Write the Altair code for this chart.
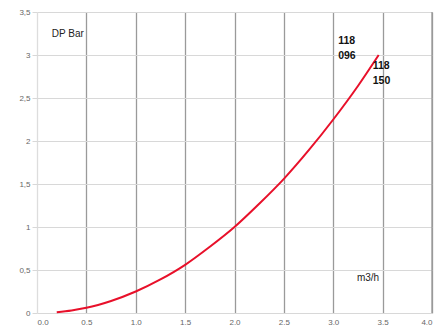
import altair as alt
import pandas as pd

flow = [0.2, 0.35, 0.5, 0.75, 1.0, 1.25, 1.5, 1.75, 2.0, 2.25, 2.5, 2.75, 3.0, 3.25, 3.46]
dp = [0.01, 0.03, 0.06, 0.14, 0.25, 0.39, 0.56, 0.77, 1.0, 1.27, 1.56, 1.89, 2.25, 2.64, 3.0]

x_ticks = [0, 0.5, 1, 1.5, 2, 2.5, 3, 3.5, 4]
y_ticks = [0, 0.5, 1, 1.5, 2, 2.5, 3, 3.5]

title_x = [0.15]
title_y = [3.25]
title_text = ["DP Bar"]

model_x = [3.05, 3.4]
model_y = [3.16, 2.87]
model_text = [["118", "096"], ["118", "150"]]

unit_x = [3.24]
unit_y = [0.41]
unit_text = ["m3/h"]

df = pd.DataFrame({"x": flow, "y": dp})
ttl = pd.DataFrame({"x": title_x, "y": title_y, "t": title_text})
mdl = pd.DataFrame({"x": model_x, "y": model_y, "t": model_text})
unit = pd.DataFrame({"x": unit_x, "y": unit_y, "t": unit_text})

xs = alt.Scale(domain=[0, 4], nice=False)
ys = alt.Scale(domain=[0, 3.5], nice=False)

xax = alt.Axis(values=x_ticks, title=None, labelExpr="replace(format(datum.value, '.1f'), '.', ',')",
               grid=True, gridColor={"condition": {"test": "datum.value == 0", "value": "#dddddd"}, "value": "#9a9a9a"},
               gridWidth=1.3, domain=False, ticks=False, labelFontSize=8, labelColor="#666666",
               labelPadding=5, labelFont="Liberation Sans")
yax = alt.Axis(values=y_ticks, title=None, labelExpr="replace(toString(datum.value), '.', ',')",
               grid=True, gridColor="#d8d8d8", gridWidth=1, domain=False, ticks=True, tickColor="#d8d8d8",
               tickSize=5, labelFontSize=8, labelColor="#666666", labelPadding=2, labelFont="Liberation Sans")

line = alt.Chart(df).mark_line(color="#e8102a", strokeWidth=2, interpolate="monotone").encode(
    x=alt.X("x:Q", scale=xs, axis=xax),
    y=alt.Y("y:Q", scale=ys, axis=yax),
)

t1 = alt.Chart(ttl).mark_text(align="left", baseline="middle", fontSize=10,
                              font="Liberation Sans", color="#222222").encode(
    x=alt.X("x:Q", scale=xs), y=alt.Y("y:Q", scale=ys), text="t")

t2 = alt.Chart(mdl).mark_text(align="left", baseline="middle", fontSize=10.5, lineHeight=15, fontWeight="bold",
                              font="Liberation Sans", color="#111111").encode(
    x=alt.X("x:Q", scale=xs), y=alt.Y("y:Q", scale=ys), text="t")

unit_lbl = alt.Chart(unit).mark_text(align="left", baseline="middle", fontSize=10,
                                     font="Liberation Sans", color="#222222").encode(
    x=alt.X("x:Q", scale=xs), y=alt.Y("y:Q", scale=ys), text="t")

right = alt.Chart(pd.DataFrame({"x": [4]})).mark_rule(color="#9a9a9a", strokeWidth=1.3).encode(
    x=alt.X("x:Q", scale=xs), y=alt.value(0), y2=alt.value(301))

chart = alt.layer(line, right, t1, t2, unit_lbl).properties(
    width=395, height=301,
    autosize=alt.AutoSizeParams(type="none"),
    padding={"left": 29, "top": 4, "right": 4, "bottom": 12},
).configure_view(stroke=None)

chart.save("out.html", embed_options={"renderer": "svg", "actions": False})
